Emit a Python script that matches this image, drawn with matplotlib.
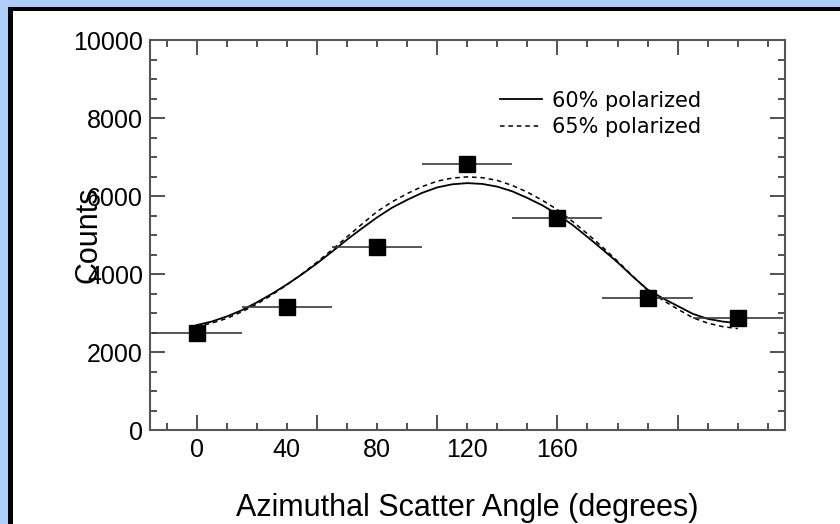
import matplotlib.pyplot as plt
import matplotlib.patches as patches
from matplotlib.ticker import MultipleLocator

plt.rcParams.update({
    'font.family': ['Liberation Sans', 'DejaVu Sans'],
    'xtick.direction': 'in',
    'ytick.direction': 'in',
})

# measured counts per azimuthal bin
angle = [0, 30, 60, 90, 120, 150, 180]
counts = [2500, 3150, 4700, 6830, 5440, 3385, 2875]
angle_err = [15, 15, 15, 15, 15, 15, 15]

# simulated modulation curves
sim_angle = list(range(0, 181, 5))
sim_60 = [2690, 2780, 2910, 3070, 3270, 3490, 3730, 3990, 4270, 4570,
          4880, 5170, 5450, 5700, 5900, 6080, 6220, 6300, 6330, 6310,
          6240, 6120, 5950, 5760, 5530, 5260, 4950, 4630, 4300, 3940,
          3600, 3380, 3180, 2980, 2850, 2780, 2740]
sim_65 = [2650, 2740, 2860, 3030, 3230, 3460, 3720, 4000, 4300, 4620,
          4950, 5280, 5600, 5850, 6060, 6240, 6380, 6460, 6490, 6470,
          6400, 6270, 6100, 5890, 5650, 5350, 5030, 4690, 4330, 3950,
          3580, 3330, 3100, 2880, 2740, 2650, 2600]

# x tick labels as printed under the axis
xlabel_pos = [0, 30, 60, 90, 120]
xlabel_txt = ['0', '40', '80', '120', '160']

W, H = 840, 524
fig = plt.figure(figsize=(W / 100, H / 100), dpi=100, facecolor='white')

# slide-style frame: light blue strip with a black rule on the left and top
blue = '#AFCDF9'
fig.patches.append(patches.Rectangle((0, 0), 8 / W, 1, transform=fig.transFigure,
                                     facecolor=blue, edgecolor='none'))
fig.patches.append(patches.Rectangle((0, 1 - 7 / H), 1, 7 / H, transform=fig.transFigure,
                                     facecolor=blue, edgecolor='none'))
fig.patches.append(patches.Rectangle((8 / W, 0), 5 / W, 1 - 7 / H, transform=fig.transFigure,
                                     facecolor='black', edgecolor='none'))
fig.patches.append(patches.Rectangle((8 / W, 1 - 11 / H), 1 - 8 / W, 4 / H, transform=fig.transFigure,
                                     facecolor='black', edgecolor='none'))

ax = fig.add_axes([150 / W, (H - 430) / H, 635 / W, 390 / H])

ax.plot(sim_angle, sim_60, color='black', lw=1.3, label='60% polarized')
ax.plot(sim_angle, sim_65, color='black', lw=1.1, ls=(0, (3, 2.5)), label='65% polarized')
ax.errorbar(angle, counts, xerr=angle_err, fmt='s', color='black', ms=11,
            ecolor='#3a3a3a', elinewidth=1.2, capsize=0, zorder=3)

ax.set_xlim(-15.5, 195.7)
ax.set_ylim(0, 10000)

ax.xaxis.set_major_locator(MultipleLocator(40))
ax.xaxis.set_minor_locator(MultipleLocator(10))
ax.yaxis.set_major_locator(MultipleLocator(2000))
ax.yaxis.set_minor_locator(MultipleLocator(500))
ax.tick_params(which='both', top=True, right=True, color='#333333', width=1.2)
ax.tick_params(which='major', length=11)
ax.tick_params(which='minor', length=5)
ax.tick_params(axis='x', labelbottom=False)
ax.tick_params(axis='y', labelsize=18, pad=5)

for x, t in zip(xlabel_pos, xlabel_txt):
    ax.text(x, -0.02, t, transform=ax.get_xaxis_transform(), ha='center', va='top',
            fontsize=18)

for s in ax.spines.values():
    s.set_color('#555555')
    s.set_linewidth(1.5)

ax.set_xlabel('Azimuthal Scatter Angle (degrees)', fontsize=22, labelpad=42)
ax.set_ylabel('Counts', fontsize=22)
ax.yaxis.set_label_coords(-0.074, 0.5)

ax.legend(loc='upper left', bbox_to_anchor=(0.551, 0.87), frameon=False,
          prop={'family': 'DejaVu Sans', 'size': 15}, handlelength=2.0,
          handletextpad=0.5, labelspacing=0.3, borderpad=0, borderaxespad=0)

fig.savefig('out.png', dpi=100, facecolor='white')
